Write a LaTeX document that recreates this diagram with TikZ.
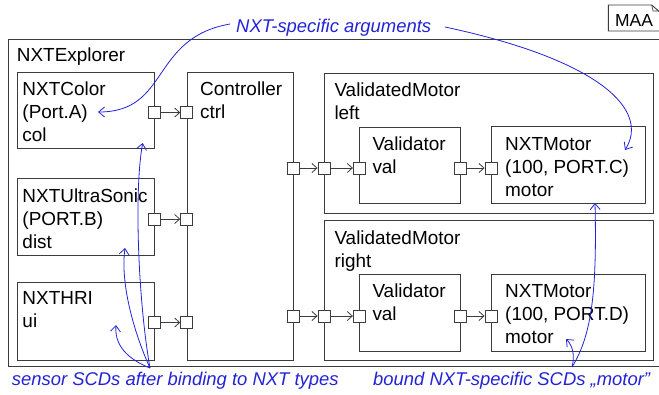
\documentclass[tikz,border=0pt]{standalone}
\usepackage{fontspec}
\setmainfont{Liberation Sans}
\usetikzlibrary{arrows.meta,calc}
\definecolor{anno}{RGB}{35,35,215}
\definecolor{edge}{RGB}{60,60,60}
\begin{document}
\begin{tikzpicture}[x=1bp,y=-1bp,
  box/.style={draw=edge,line width=1.1bp,inner sep=0pt,anchor=north west},
  port/.style={draw=edge,fill=white,line width=0.9bp,minimum size=12bp,inner sep=0pt},
  txt/.style={anchor=base west,inner sep=0pt,font=\fontsize{19}{23}\selectfont},
  wire/.style={draw=edge,line width=0.8bp,-{Straight Barb[length=5bp,width=9bp]}},
  note/.style={draw=anno,line width=0.8bp,-{Straight Barb[length=6bp,width=10bp]}},
  ann/.style={anchor=base west,inner sep=0pt,text=anno,font=\fontsize{18.5}{22}\selectfont\itshape},
]
\useasboundingbox (0,0) rectangle (659,394);
\fill[white] (0,0) rectangle (659,394);

% MAA note
\node[anchor=base west,inner sep=0pt,font=\fontsize{17.5}{20}\selectfont] (maa) at (615,26.5) {MAA};
\draw[edge,line width=0.9bp] (608.3,5) -- (651.7,5) -- (662,14) -- (662,31) -- (608.3,31) -- cycle;
\draw[edge,line width=0.6bp] (651.7,5) -- (653,11) -- (658.5,11);

% outer
\node[box,minimum width=654bp,minimum height=327bp] (expl) at (8,39) {};
\node[txt] (explt) at (16.7,61.7) {NXTExplorer};

% boxes
\node[box,minimum width=137.3bp,minimum height=76.6bp] (col) at (16.7,71.7) {};
\node[box,minimum width=137.3bp,minimum height=77bp] (dist) at (16.7,178) {};
\node[box,minimum width=137.3bp,minimum height=77.5bp] (ui) at (16.7,282) {};
\node[box,minimum width=106.6bp,minimum height=287.2bp] (ctrl) at (186.7,72.3) {};
\node[box,minimum width=329.3bp,minimum height=139.8bp] (vmL) at (324,72.7) {};
\node[box,minimum width=100.7bp,minimum height=75.8bp] (valL) at (359.3,126.7) {};
\node[box,minimum width=153.5bp,minimum height=76.7bp] (motL) at (491,126.3) {};
\node[box,minimum width=329.3bp,minimum height=139.5bp] (vmR) at (324,220) {};
\node[box,minimum width=100.7bp,minimum height=76.7bp] (valR) at (359.3,274) {};
\node[box,minimum width=154bp,minimum height=76.7bp] (motR) at (491,274) {};

% texts
\node[txt] (col1) at (22.3,95) {NXTColor};
\node[txt] (col2) at (22.3,118) {(Port.A)};
\node[txt] (col3) at (22.3,141) {col};
\node[txt] (dist1) at (22.3,202) {NXTUltraSonic};
\node[txt] (dist2) at (22.3,225) {(PORT.B)};
\node[txt] (dist3) at (22.3,248) {dist};
\node[txt] (ui1) at (22.3,304) {NXTHRI};
\node[txt] (ui2) at (22.3,327) {ui};
\node[txt] (ctrl1) at (200,95.7) {Controller};
\node[txt] (ctrl2) at (200,118.7) {ctrl};
\node[txt] (vmL1) at (334.3,96.7) {ValidatedMotor};
\node[txt] (vmL2) at (334.3,119.7) {left};
\node[txt] (valL1) at (372.3,150) {Validator};
\node[txt] (valL2) at (372.3,173) {val};
\node[txt] (motL1) at (505,150) {NXTMotor};
\node[txt] (motL2) at (505,173) {(100, PORT.C)};
\node[txt] (motL3) at (505,196) {motor};
\node[txt] (vmR1) at (334.3,244) {ValidatedMotor};
\node[txt] (vmR2) at (334.3,267) {right};
\node[txt] (valR1) at (372.3,297.5) {Validator};
\node[txt] (valR2) at (372.3,320.5) {val};
\node[txt] (motR1) at (505,297.5) {NXTMotor};
\node[txt] (motR2) at (505,320.5) {(100, PORT.D)};
\node[txt] (motR3) at (505,343.5) {motor};

% ports
\node[port] (pc) at (154,112.5) {};
\node[port] (c1) at (186.7,112.5) {};
\node[port] (pd) at (154,219) {};
\node[port] (c2) at (186.7,219) {};
\node[port] (pu) at (154,322.5) {};
\node[port] (c3) at (186.7,322.5) {};
\node[port] (c4) at (293.3,168) {};
\node[port] (vl) at (324,168) {};
\node[port] (vli) at (359.3,168) {};
\node[port] (vlo) at (460,168) {};
\node[port] (ml) at (491,168) {};
\node[port] (c5) at (293.3,316) {};
\node[port] (vr) at (324,316) {};
\node[port] (vri) at (359.3,316) {};
\node[port] (vro) at (460,316) {};
\node[port] (mr) at (491,316) {};

% wires
\draw[wire] (pc) -- (c1);
\draw[wire] (pd) -- (c2);
\draw[wire] (pu) -- (c3);
\draw[wire] (c4) -- (vl);
\draw[wire] (vl) -- (vli);
\draw[wire] (vlo) -- (ml);
\draw[wire] (c5) -- (vr);
\draw[wire] (vr) -- (vri);
\draw[wire] (vro) -- (mr);

% annotations
\node[ann] (arg) at (236,32.5) {NXT-specific arguments};
\node[ann] (sens) at (11.7,385) {sensor SCDs after binding to NXT types};
\node[ann] (bound) at (373,385) {bound NXT-specific SCDs „motor"};

\coordinate (a1) at (230,24);
\coordinate (a2) at (445,27);
\coordinate (tA) at (98,112);
\coordinate (tC) at (625,150);
\coordinate (hs) at (150,368);
\coordinate (tcol) at (142.7,143);
\coordinate (tdist) at (125,248);
\coordinate (tui) at (116,325);
\coordinate (hb) at (572,367);
\coordinate (tmR) at (566,339);
\coordinate (tmL) at (595,203);

\draw[note] (a1) .. controls (150,38) and (170,112) .. (tA);
\draw[note] (a2) .. controls (600,60) and (650,110) .. (tC);
\draw[note] (hs) .. controls (138,300) and (134,190) .. (tcol);
\draw[note] (hs) .. controls (135,335) and (120,285) .. (tdist);
\draw[note] (hs) .. controls (135,362) and (114,350) .. (tui);
\draw[note] (hb) .. controls (575,356) and (573,346) .. (tmR);
\draw[note] (hb) .. controls (592,335) and (597,290) .. (tmL);
\end{tikzpicture}
\end{document}
